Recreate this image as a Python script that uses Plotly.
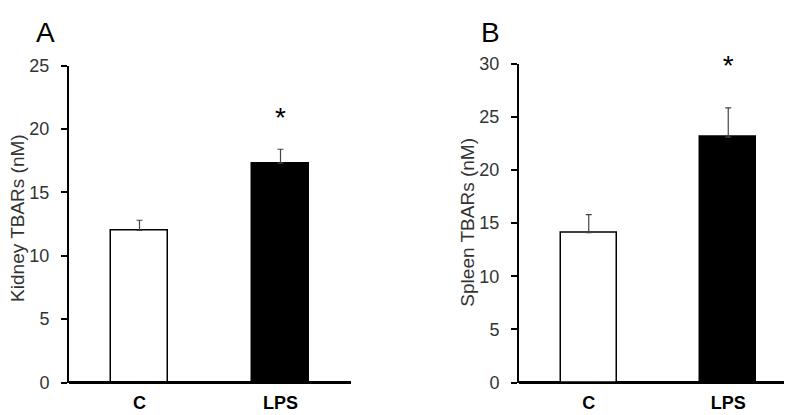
import plotly.graph_objects as go

grupos = ["C", "LPS"]
rotulos = ["<b>C</b>", "<b>LPS</b>"]

rim_media = [12.0, 17.3]
rim_erro = [0.8, 1.1]

baco_media = [14.1, 23.1]
baco_erro = [1.7, 2.75]

cores = ["white", "black"]
fonte = "Arial, Liberation Sans, sans-serif"

fig = go.Figure()


def painel(media, erro, xa, ya, desloc_estrela):
    fig.add_trace(go.Bar(
        x=grupos,
        y=media,
        width=0.4,
        marker=dict(color=cores, line=dict(color="black", width=1.5)),
        error_y=dict(
            type="data",
            array=erro,
            arrayminus=[0, 0],
            symmetric=False,
            color="#444",
            thickness=1.2,
            width=3,
        ),
        xaxis=xa,
        yaxis=ya,
        showlegend=False,
    ))
    fig.add_trace(go.Scatter(
        x=[grupos[1]],
        y=[media[1] + erro[1] + desloc_estrela],
        mode="text",
        text=["*"],
        textfont=dict(size=28, color="black", family=fonte),
        cliponaxis=False,
        xaxis=xa,
        yaxis=ya,
        showlegend=False,
    ))


painel(rim_media, rim_erro, "x", "y", 2.3)
painel(baco_media, baco_erro, "x2", "y2", 3.7)

eixo_x = dict(
    type="category",
    range=[-0.5, 1.5],
    showline=False,
    ticks="outside",
    ticklen=4,
    tickcolor="rgba(0,0,0,0)",
    tickvals=grupos,
    ticktext=rotulos,
    tickfont=dict(size=18, color="black", family=fonte),
    showgrid=False,
    zeroline=False,
)

eixo_y = dict(
    showline=True,
    linecolor="black",
    linewidth=2,
    ticks="outside",
    ticklen=6,
    tickwidth=2,
    tickcolor="black",
    dtick=5,
    ticklabelstandoff=8,
    tickfont=dict(size=18, color="#333", family=fonte),
    showgrid=False,
    zeroline=True,
    zerolinecolor="black",
    zerolinewidth=2.5,
)

fig.update_layout(
    width=792,
    height=415,
    margin=dict(l=0, r=0, t=0, b=0),
    plot_bgcolor="white",
    paper_bgcolor="white",
    bargap=0,
    xaxis=dict(eixo_x, domain=[61 / 792, 343 / 792], anchor="y"),
    yaxis=dict(eixo_y, domain=[32 / 415, 365 / 415], range=[0, 25], anchor="x"),
    xaxis2=dict(eixo_x, domain=[511 / 792, 790 / 792], anchor="y2"),
    yaxis2=dict(eixo_y, domain=[32 / 415, 367 / 415], range=[0, 30], anchor="x2"),
    annotations=[
        dict(text="A", x=26 / 792, y=1 - 15 / 415, xref="paper", yref="paper",
             xanchor="left", yanchor="middle", showarrow=False,
             font=dict(size=28, color="black", family=fonte)),
        dict(text="B", x=471 / 792, y=1 - 15 / 415, xref="paper", yref="paper",
             xanchor="left", yanchor="middle", showarrow=False,
             font=dict(size=28, color="black", family=fonte)),
        dict(text="Kidney TBARs (nM)", x=10 / 792, y=(415 - 210) / 415,
             xref="paper", yref="paper", textangle=-90, showarrow=False,
             xanchor="center", yanchor="middle",
             font=dict(size=19, color="#333", family=fonte)),
        dict(text="Spleen TBARs (nM)", x=460 / 792, y=(415 - 215) / 415,
             xref="paper", yref="paper", textangle=-90, showarrow=False,
             xanchor="center", yanchor="middle",
             font=dict(size=19, color="#333", family=fonte)),
    ],
)

fig.write_html("out.html")
